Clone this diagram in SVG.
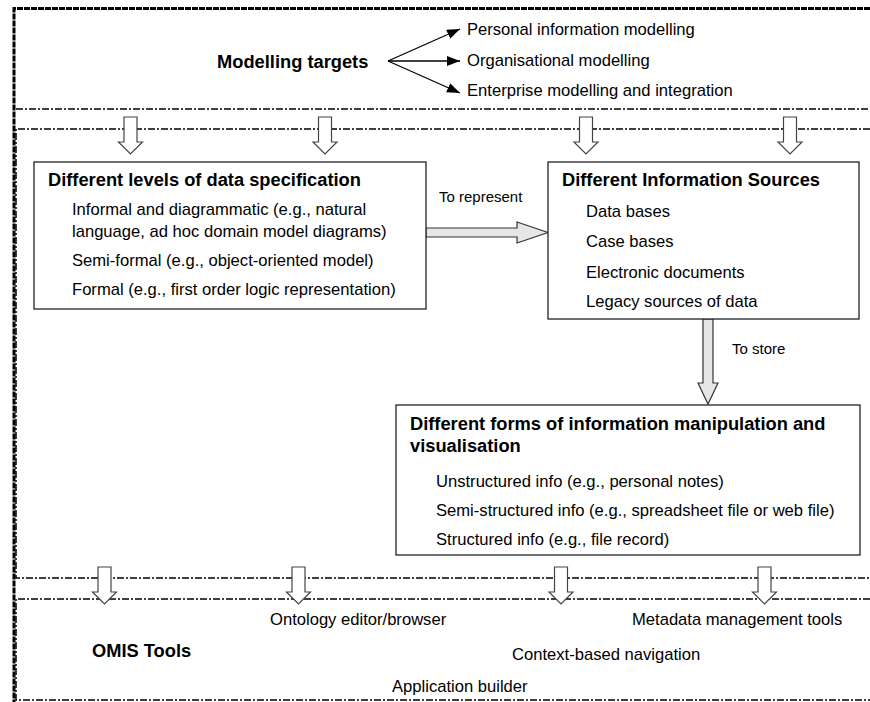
<svg xmlns="http://www.w3.org/2000/svg" width="870" height="702" viewBox="0 0 870 702">
<style>
text{font-family:"Liberation Sans",Arial,sans-serif;fill:#000}
.r{font-size:16.6px}
.b{font-size:18.3px;font-weight:bold}
.s{font-size:15px}
.frame{fill:none;stroke:#000;stroke-width:3;stroke-dasharray:6 1}
.dd{fill:none;stroke:#000;stroke-width:1.5;stroke-dasharray:7 2 2 2}
.box{fill:#fff;stroke:#222;stroke-width:1.3}
.hol{fill:#fff;stroke:#444;stroke-width:1.2}
.fat{fill:#e6e6e6;stroke:#333;stroke-width:1.2}
.ln{stroke:#000;stroke-width:1.3;fill:none}
</style>
<defs>
<marker id="ah" markerUnits="userSpaceOnUse" markerWidth="14" markerHeight="12" refX="13" refY="5" orient="auto">
<path d="M0,0 L13,5 L0,10 Z" fill="#000"/>
</marker>
<path id="hd" d="M-6.5,0 H6.5 V25 H12 L0,37 L-12,25 H-6.5 Z"/>
</defs>
<rect width="870" height="702" fill="#fff"/>
<g id="frames">
<path class="dd" d="M16,109 H870"/>
<path class="dd" d="M870,129 H16 V578 H870"/>
<path class="dd" d="M870,599 H16 V700 H870"/>
<path class="frame" d="M870,8.5 H14 V702"/>
</g>
<g id="connectors">
<line class="ln" x1="388" y1="61" x2="460" y2="29" marker-end="url(#ah)"/>
<line class="ln" x1="388" y1="61" x2="460" y2="61" marker-end="url(#ah)"/>
<line class="ln" x1="388" y1="61" x2="460" y2="93" marker-end="url(#ah)"/>
<use href="#hd" class="hol" x="130.5" y="117"/>
<use href="#hd" class="hol" x="325" y="117"/>
<use href="#hd" class="hol" x="586" y="117"/>
<use href="#hd" class="hol" x="790" y="117"/>
<use href="#hd" class="hol" x="104.5" y="567"/>
<use href="#hd" class="hol" x="298.5" y="567"/>
<use href="#hd" class="hol" x="561" y="567"/>
<use href="#hd" class="hol" x="764.5" y="567"/>
<path class="fat" d="M426,228 H517 V222 L548,232.5 L517,243 V237 H426 Z"/>
<path class="fat" d="M703,319 V383 H698 L708,404 L718,383 H713 V319 Z"/>
<text class="s" x="439" y="202">To represent</text>
<text class="s" x="732" y="354">To store</text>
</g>
<g id="modelling-targets">
<text class="b" x="217" y="68">Modelling targets</text>
<text class="r" x="467" y="35">Personal information modelling</text>
<text class="r" x="467" y="66">Organisational modelling</text>
<text class="r" x="467" y="96">Enterprise modelling and integration</text>
</g>
<g id="data-specification">
<rect class="box" x="34" y="162" width="392" height="147"/>
<text class="b" x="48" y="186">Different levels of data specification</text>
<text class="r" x="72" y="215">Informal and diagrammatic (e.g., natural</text>
<text class="r" x="72" y="237">language, ad hoc domain model diagrams)</text>
<text class="r" x="72" y="266">Semi-formal (e.g., object-oriented model)</text>
<text class="r" x="72" y="295">Formal (e.g., first order logic representation)</text>
</g>
<g id="information-sources">
<rect class="box" x="548" y="162" width="311" height="157"/>
<text class="b" x="562" y="186">Different Information Sources</text>
<text class="r" x="586" y="217">Data bases</text>
<text class="r" x="586" y="247">Case bases</text>
<text class="r" x="586" y="278">Electronic documents</text>
<text class="r" x="586" y="307">Legacy sources of data</text>
</g>
<g id="information-manipulation">
<rect class="box" x="396" y="405" width="464" height="150"/>
<text class="b" x="410" y="430">Different forms of information manipulation and</text>
<text class="b" x="410" y="452">visualisation</text>
<text class="r" x="436" y="487">Unstructured info (e.g., personal notes)</text>
<text class="r" x="436" y="516">Semi-structured info (e.g., spreadsheet file or web file)</text>
<text class="r" x="436" y="545">Structured info (e.g., file record)</text>
</g>
<g id="omis-tools">
<text class="b" x="92" y="657">OMIS Tools</text>
<text class="r" x="270" y="625">Ontology editor/browser</text>
<text class="r" x="632" y="625">Metadata management tools</text>
<text class="r" x="512" y="660">Context-based navigation</text>
<text class="r" x="392" y="692">Application builder</text>
</g>
</svg>
